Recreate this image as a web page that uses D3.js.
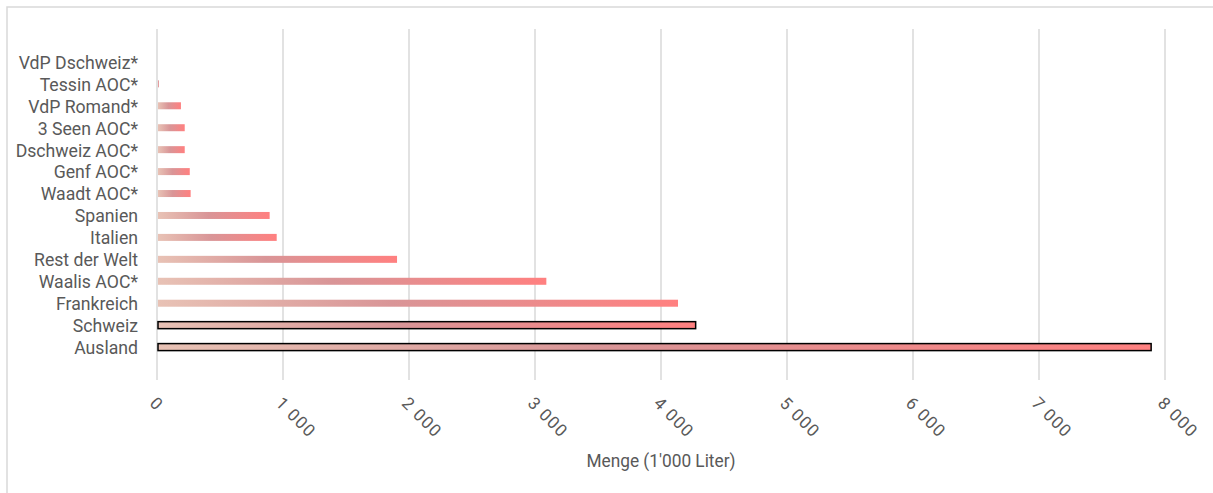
<!DOCTYPE html>
<html>
<head>
<meta charset="utf-8">
<script src="https://cdn.jsdelivr.net/npm/d3@7"></script>
<style>
  html, body { margin: 0; padding: 0; background: #fff; }
  svg { display: block; }
  text { font-family: Roboto, "Liberation Sans", sans-serif; fill: #595959; }
</style>
</head>
<body>
<svg id="chart" width="1213" height="493"></svg>
<script>
// Categories from top to bottom
const categories = [
  "VdP Dschweiz*", "Tessin AOC*", "VdP Romand*", "3 Seen AOC*", "Dschweiz AOC*",
  "Genf AOC*", "Waadt AOC*", "Spanien", "Italien", "Rest der Welt",
  "Waalis AOC*", "Frankreich", "Schweiz", "Ausland"
];
// Quantity in 1'000 litres
const values = [0, 15, 190, 220, 220, 260, 267, 894, 950, 1905, 3090, 4135, 4275, 7890];
// Totals drawn with a black outline
const totals = ["Schweiz", "Ausland"];
const xTicks = [0, 1000, 2000, 3000, 4000, 5000, 6000, 7000, 8000];
const xTitle = "Menge (1'000 Liter)";

const svg = d3.select("#chart");
const W = 1213, H = 493;
const plot = { left: 157, right: 1165, top: 29, bottom: 380 };

// outer frame (left and top edges)
svg.append("path")
  .attr("d", `M7,${H} L7,7 L${W},7`)
  .attr("fill", "none").attr("stroke", "#d9d9d9").attr("stroke-width", 1.5);

const x = d3.scaleLinear().domain([0, 8000]).range([plot.left, plot.right]);
const y = d3.scaleBand().domain(categories).range([plot.top, plot.bottom])
  .paddingInner(0).paddingOuter(1);

// gradient running along each bar
const defs = svg.append("defs");
const grad = defs.append("linearGradient").attr("id", "barGrad")
  .attr("x1", "0%").attr("x2", "100%").attr("y1", "0%").attr("y2", "0%");
grad.append("stop").attr("offset", "0%").attr("stop-color", "#e8c2b5");
grad.append("stop").attr("offset", "45%").attr("stop-color", "#d99597");
grad.append("stop").attr("offset", "100%").attr("stop-color", "#ff8080");

// vertical gridlines
svg.append("g").selectAll("line").data(xTicks).join("line")
  .attr("x1", d => x(d)).attr("x2", d => x(d))
  .attr("y1", plot.top).attr("y2", plot.bottom)
  .attr("stroke", "#d9d9d9").attr("stroke-width", 1.5);

// bars
const barH = 7;
svg.append("g").selectAll("rect").data(categories.map((c, i) => ({ c, v: values[i] })))
  .join("rect")
  .attr("x", x(0) + 1)
  .attr("y", d => y(d.c) + y.bandwidth() / 2 - barH / 2)
  .attr("width", d => Math.max(0, x(d.v) - x(0) - 1))
  .attr("height", barH)
  .attr("fill", "url(#barGrad)")
  .attr("stroke", d => totals.includes(d.c) ? "#000" : "none")
  .attr("stroke-width", 1.5);

// category labels (slightly condensed)
svg.append("g").selectAll("text").data(categories).join("text")
  .attr("transform", d => `translate(138,${y(d) + y.bandwidth() / 2}) scale(0.93,1)`)
  .attr("dy", "0.36em")
  .attr("text-anchor", "end")
  .attr("font-size", 19)
  .text(d => d);

// x tick labels, rotated
svg.append("g").selectAll("text").data(xTicks).join("text")
  .attr("transform", d => `translate(${x(d) - 4},${plot.bottom + 20}) rotate(45)`)
  .attr("dy", "0.36em")
  .attr("text-anchor", "start")
  .attr("font-size", 17)
  .attr("letter-spacing", 1.2)
  .text(d => d3.format(",")(d).replace(/,/g, " "));

// axis title
svg.append("text")
  .attr("transform", `translate(${(plot.left + plot.right) / 2},467) scale(0.96,1)`)
  .attr("text-anchor", "middle")
  .attr("font-size", 18)
  .text(xTitle);
</script>
</body>
</html>
